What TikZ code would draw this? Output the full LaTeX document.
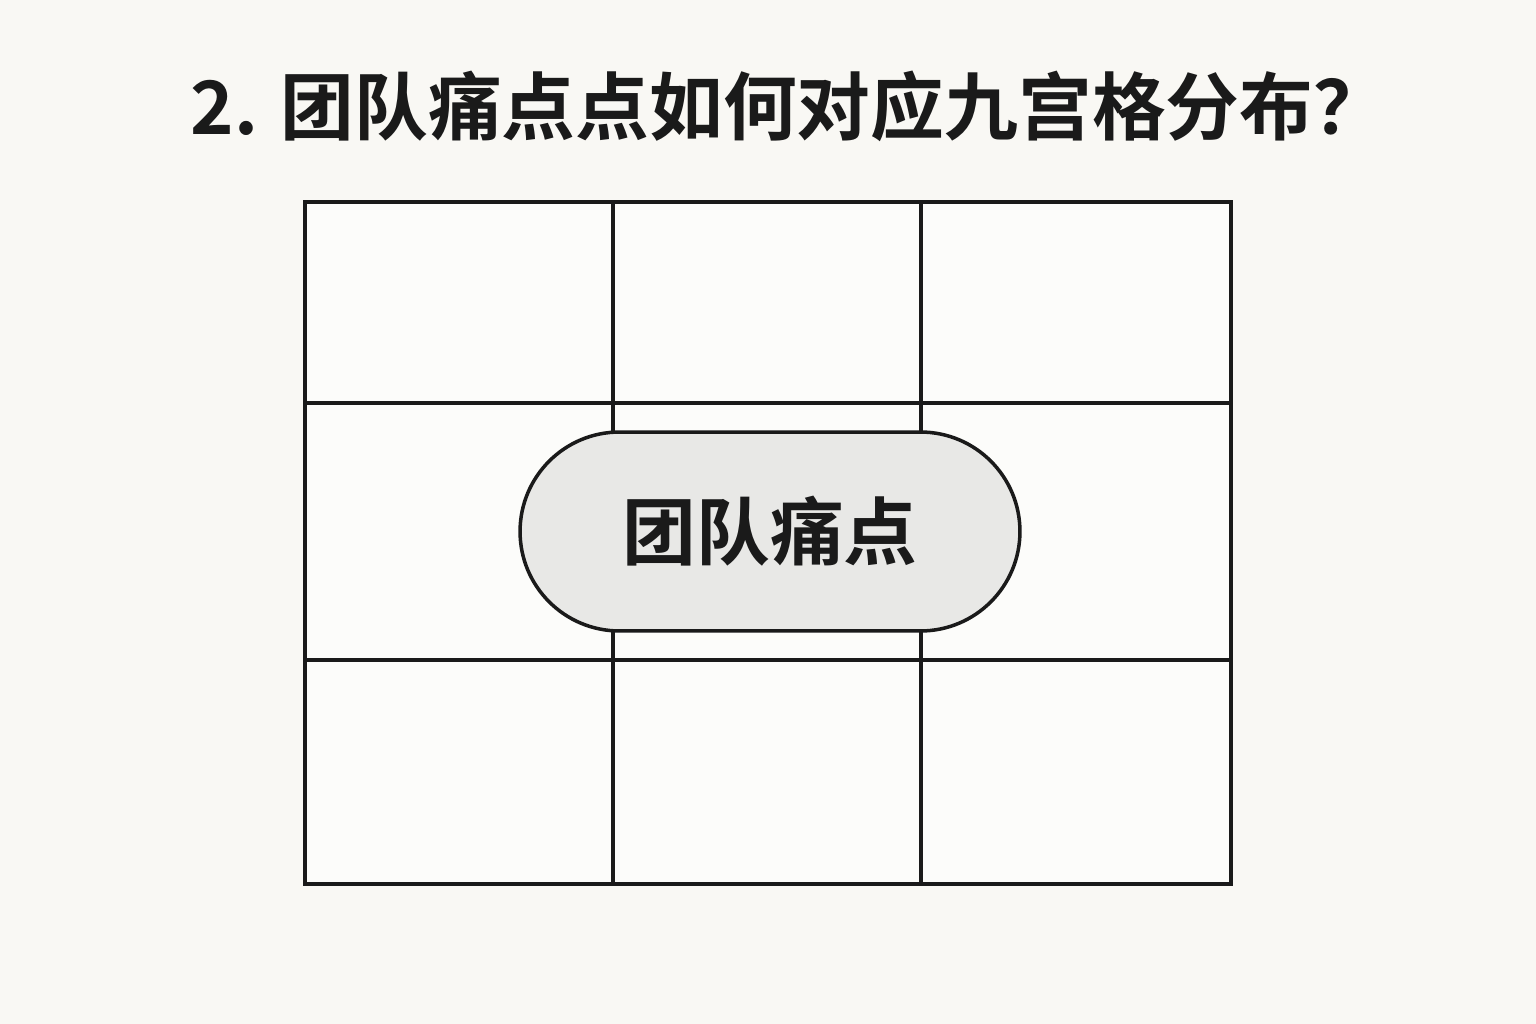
\documentclass[tikz,border=0pt]{standalone}
\usepackage{fontspec}
\setmainfont{Noto Sans CJK SC}
\newfontfamily\cjkbold{Noto Sans CJK SC Bold}
\usetikzlibrary{positioning}

\definecolor{pagebg}{HTML}{F9F8F4}
\definecolor{cellbg}{HTML}{FCFCFA}
\definecolor{pillbg}{HTML}{E8E8E6}
\definecolor{ink}{HTML}{1A1A1A}

\tikzset{
    cell/.style={draw=ink, fill=cellbg, line width=2pt, inner sep=0pt},
    pill/.style={draw=ink, fill=pillbg, line width=2pt, minimum width=10cm,
                 minimum height=3.98cm, rounded corners=1.99cm, inner sep=0pt,
                 font=\cjkbold\fontsize{42}{42}\selectfont, text=ink},
    heading/.style={font=\cjkbold\fontsize{42}{42}\selectfont, text=ink}
}

\begin{document}
\begin{tikzpicture}[x=0.02cm, y=-0.02cm]
            \fill[pagebg] (0, 0) rectangle (1536, 1024);
            \useasboundingbox (0, 0) rectangle (1536, 1024);
            \node[heading] (title) at (789, 106) {2. 团队痛点点如何对应九宫格分布？};
            % top row
            \node[cell, minimum width=6.16cm, minimum height=4.02cm] (c11) at (459, 302.5) {};
            \node[cell, minimum width=6.16cm, minimum height=4.02cm] (c12) at (767, 302.5) {};
            \node[cell, minimum width=6.20cm, minimum height=4.02cm] (c13) at (1076, 302.5) {};
            % middle row
            \node[cell, minimum width=6.16cm, minimum height=5.14cm] (c21) at (459, 531.5) {};
            \node[cell, minimum width=6.16cm, minimum height=5.14cm] (c22) at (767, 531.5) {};
            \node[cell, minimum width=6.20cm, minimum height=5.14cm] (c23) at (1076, 531.5) {};
            % bottom row
            \node[cell, minimum width=6.16cm, minimum height=4.48cm] (c31) at (459, 772) {};
            \node[cell, minimum width=6.16cm, minimum height=4.48cm] (c32) at (767, 772) {};
            \node[cell, minimum width=6.20cm, minimum height=4.48cm] (c33) at (1076, 772) {};
            \node[pill] (pain) at (770, 531.5) {团队痛点};
        \end{tikzpicture}
\end{document}
